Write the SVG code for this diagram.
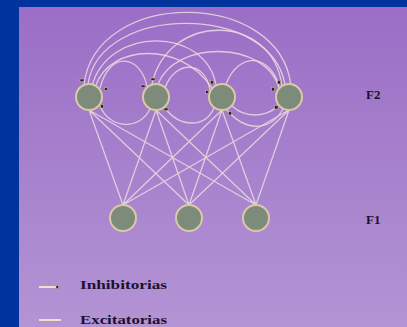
<svg xmlns="http://www.w3.org/2000/svg" width="407" height="327" viewBox="0 0 407 327">
<defs>
<linearGradient id="bg" x1="0" y1="0" x2="0" y2="1">
<stop offset="0" stop-color="#9a6ec6"/>
<stop offset="1" stop-color="#b394d4"/>
</linearGradient>
<style>
.c{fill:none;stroke:#eadbe0;stroke-width:1.3;stroke-opacity:0.85}
.n{fill:#7d8b7b;stroke:#d9c9a4;stroke-width:2}
.m{fill:#2a2030;stroke:#c8b890;stroke-width:0.6}
.t{font-family:"Liberation Serif",serif;font-weight:bold;fill:#1c1230}
</style>
</defs>
<rect width="407" height="327" fill="#00339b"/>
<rect x="19" y="7" width="388" height="320" fill="url(#bg)"/>
<g id="connectors">
<path class="c" d="M89,110 L123,205 M89,110 L189,205 M89,110 L256,205 M156,110 L123,205 M156,110 L189,205 M156,110 L256,205 M222,110 L123,205 M222,110 L189,205 M222,110 L256,205 M289,110 L123,205 M289,110 L189,205 M289,110 L256,205"/>
<path class="c" d="M84,85 C95,-12 280,-12 291,86"/>
<path class="c" d="M88,84 C100,3 272,3 285,85"/>
<path class="c" d="M92,86 C108,26 205,26 216,85"/>
<path class="c" d="M152,84 C168,12 272,12 282,86"/>
<path class="c" d="M158,84 C175,40 265,40 279,88"/>
<path class="c" d="M100,88 C110,50 140,55 147,86"/>
<path class="c" d="M96,85 C110,45 180,40 212,88"/>
<path class="c" d="M165,88 C175,60 205,60 210,90"/>
<path class="c" d="M226,84 C240,50 270,55 279,86"/>
<path class="c" d="M100,106 C110,130 140,130 150,109"/>
<path class="c" d="M165,108 C180,128 205,128 214,108"/>
<path class="c" d="M232,106 C245,118 265,118 278,106"/>
<path class="c" d="M226,109 C245,132 270,132 283,109"/>
</g>
<g id="n1"><circle class="n" cx="89" cy="97" r="13"/></g>
<g id="n2"><circle class="n" cx="156" cy="97" r="13"/></g>
<g id="n3"><circle class="n" cx="222" cy="97" r="13"/></g>
<g id="n4"><circle class="n" cx="289" cy="97" r="13"/></g>
<g id="m1"><circle class="n" cx="123" cy="218" r="13"/></g>
<g id="m2"><circle class="n" cx="189" cy="218" r="13"/></g>
<g id="m3"><circle class="n" cx="256" cy="218" r="13"/></g>
<g id="markers">
<rect class="m" x="80" y="79" width="4" height="2.5"/>
<rect class="m" x="104.5" y="87.5" width="3" height="3"/>
<rect class="m" x="100.5" y="104.5" width="3" height="3.5"/>
<rect class="m" x="151" y="78" width="4" height="2.5"/>
<rect class="m" x="141" y="85" width="4" height="2.5"/>
<rect class="m" x="164" y="108" width="4" height="2.5"/>
<rect class="m" x="210.5" y="80.5" width="3" height="3.5"/>
<rect class="m" x="205.5" y="90.5" width="3" height="3"/>
<rect class="m" x="228.5" y="111.5" width="3" height="3.5"/>
<rect class="m" x="277.5" y="80.5" width="3" height="3.5"/>
<rect class="m" x="271.5" y="87.5" width="3" height="3.5"/>
<rect class="m" x="274.5" y="105.5" width="3.5" height="3.5"/>
</g>
<g id="labels">
<text class="t" x="366" y="99" font-size="13">F2</text>
<text class="t" x="366" y="224" font-size="13">F1</text>
</g>
<g id="legend">
<line x1="39" y1="287" x2="56" y2="287" stroke="#f0e0c8" stroke-width="2"/>
<rect class="m" x="56" y="285.5" width="2.5" height="3"/>
<text class="t" x="80" y="289" font-size="13" textLength="87" lengthAdjust="spacingAndGlyphs">Inhibitorias</text>
<line x1="39" y1="320" x2="61" y2="320" stroke="#f0e0c8" stroke-width="2"/>
<text class="t" x="80" y="324" font-size="12" textLength="87" lengthAdjust="spacingAndGlyphs">Excitatorias</text>
</g>
</svg>
